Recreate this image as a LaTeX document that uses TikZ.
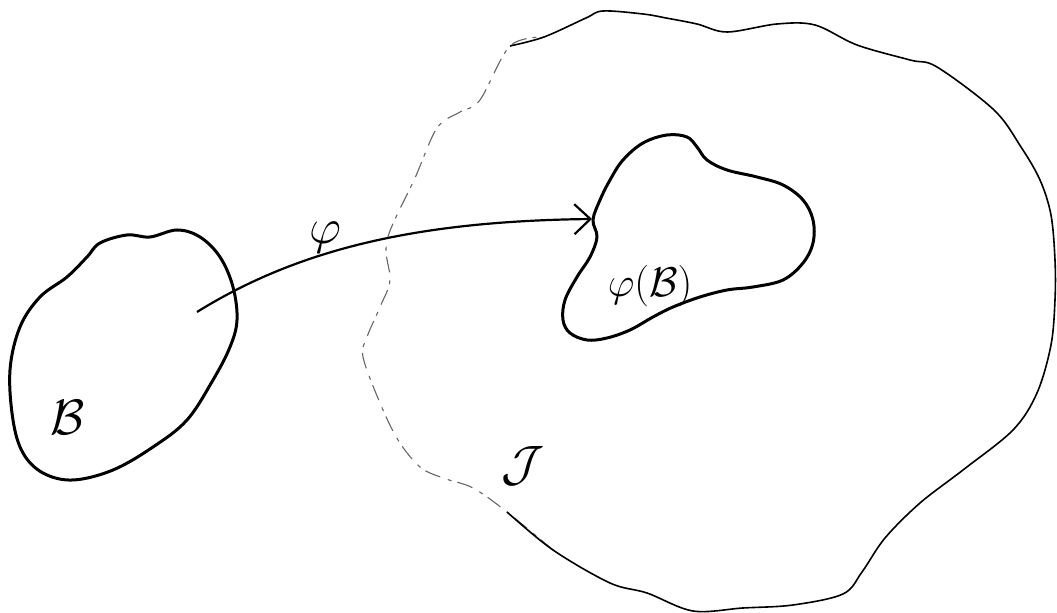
\documentclass[tikz,border=0pt]{standalone}
\usetikzlibrary{arrows.meta}
\begin{document}
\begin{tikzpicture}[x=0.5pt,y=-0.5pt,
  blob/.style={line width=1.5pt,line join=round},
  outer/.style={line width=0.8pt,line join=round},
  faint/.style={line width=0.55pt,black!60,dash pattern=on 8pt off 3pt on 2pt off 4pt},
  maparrow/.style={line width=1.1pt,-{Straight Barb[length=8pt,width=15pt,line width=1.1pt]}},
  lbl/.style={inner sep=0pt}]
\useasboundingbox (0,0) rectangle (1057,613);
% big region J (faint left part)
\draw[faint] plot[smooth,tension=0.55] coordinates {(553,550) (507,512) (473,488) (443,478) (420,467) (398,440) (380,403) (363,357) (367,337) (380,307) (390,280) (387,240) (415,178) (437,128) (460,112) (480,100) (510,46) (544,37)};
% big region J (solid part)
\draw[outer] plot[smooth,tension=0.55] coordinates {(510,46) (544,37) (586,18) (603,11) (643,14) (666,18) (697,24) (727,32) (777,24) (815,25) (857,45) (910,60) (937,67) (994,110) (1021,147) (1040,180) (1051,215) (1055,260) (1055,300) (1051,345) (1037,393) (1013,430) (963,470) (920,503) (885,538) (862,572) (843,594) (793,605) (743,608) (693,611) (647,593) (610,583) (553,550) (507,512)};
% blob B
\draw[blob] plot[smooth cycle,tension=0.6] coordinates {(127,235) (150,237) (177,230) (200,237) (220,257) (233,287) (237,320) (230,347) (213,380) (187,420) (153,447) (113,470) (73,480) (43,473) (23,453) (13,420) (10,370) (20,327) (40,297) (67,277) (87,257) (100,243)};
% blob phi(B)
\draw[blob] plot[smooth cycle,tension=0.6] coordinates {(593,220) (600,200) (610,180) (623,160) (643,143) (667,135) (687,137) (697,147) (707,160) (727,170) (757,177) (783,185) (803,200) (813,220) (813,243) (803,263) (783,280) (753,287) (727,290) (700,297) (673,307) (653,317) (630,330) (607,338) (587,340) (570,333) (563,320) (565,300) (577,277) (590,257) (597,237)};
% labels
\node[lbl] (B) at (68,418) {\fontsize{33}{36}\selectfont$\mathcal{B}$};
\node[lbl] (phiB) at (650,286) {\fontsize{21}{24}\selectfont$\varphi(\mathcal{B})$};
\node[lbl] (J) at (523,466) {\fontsize{34}{38}\selectfont$\mathcal{J}$};
\node[lbl] (phi) at (325,238) {\fontsize{30}{34}\selectfont$\varphi$};
% arrow
\coordinate (s) at (197,312);
\coordinate (t) at (592,219);
\draw[maparrow] (s) .. controls (300,248) and (420,221) .. (t);
\end{tikzpicture}
\end{document}
